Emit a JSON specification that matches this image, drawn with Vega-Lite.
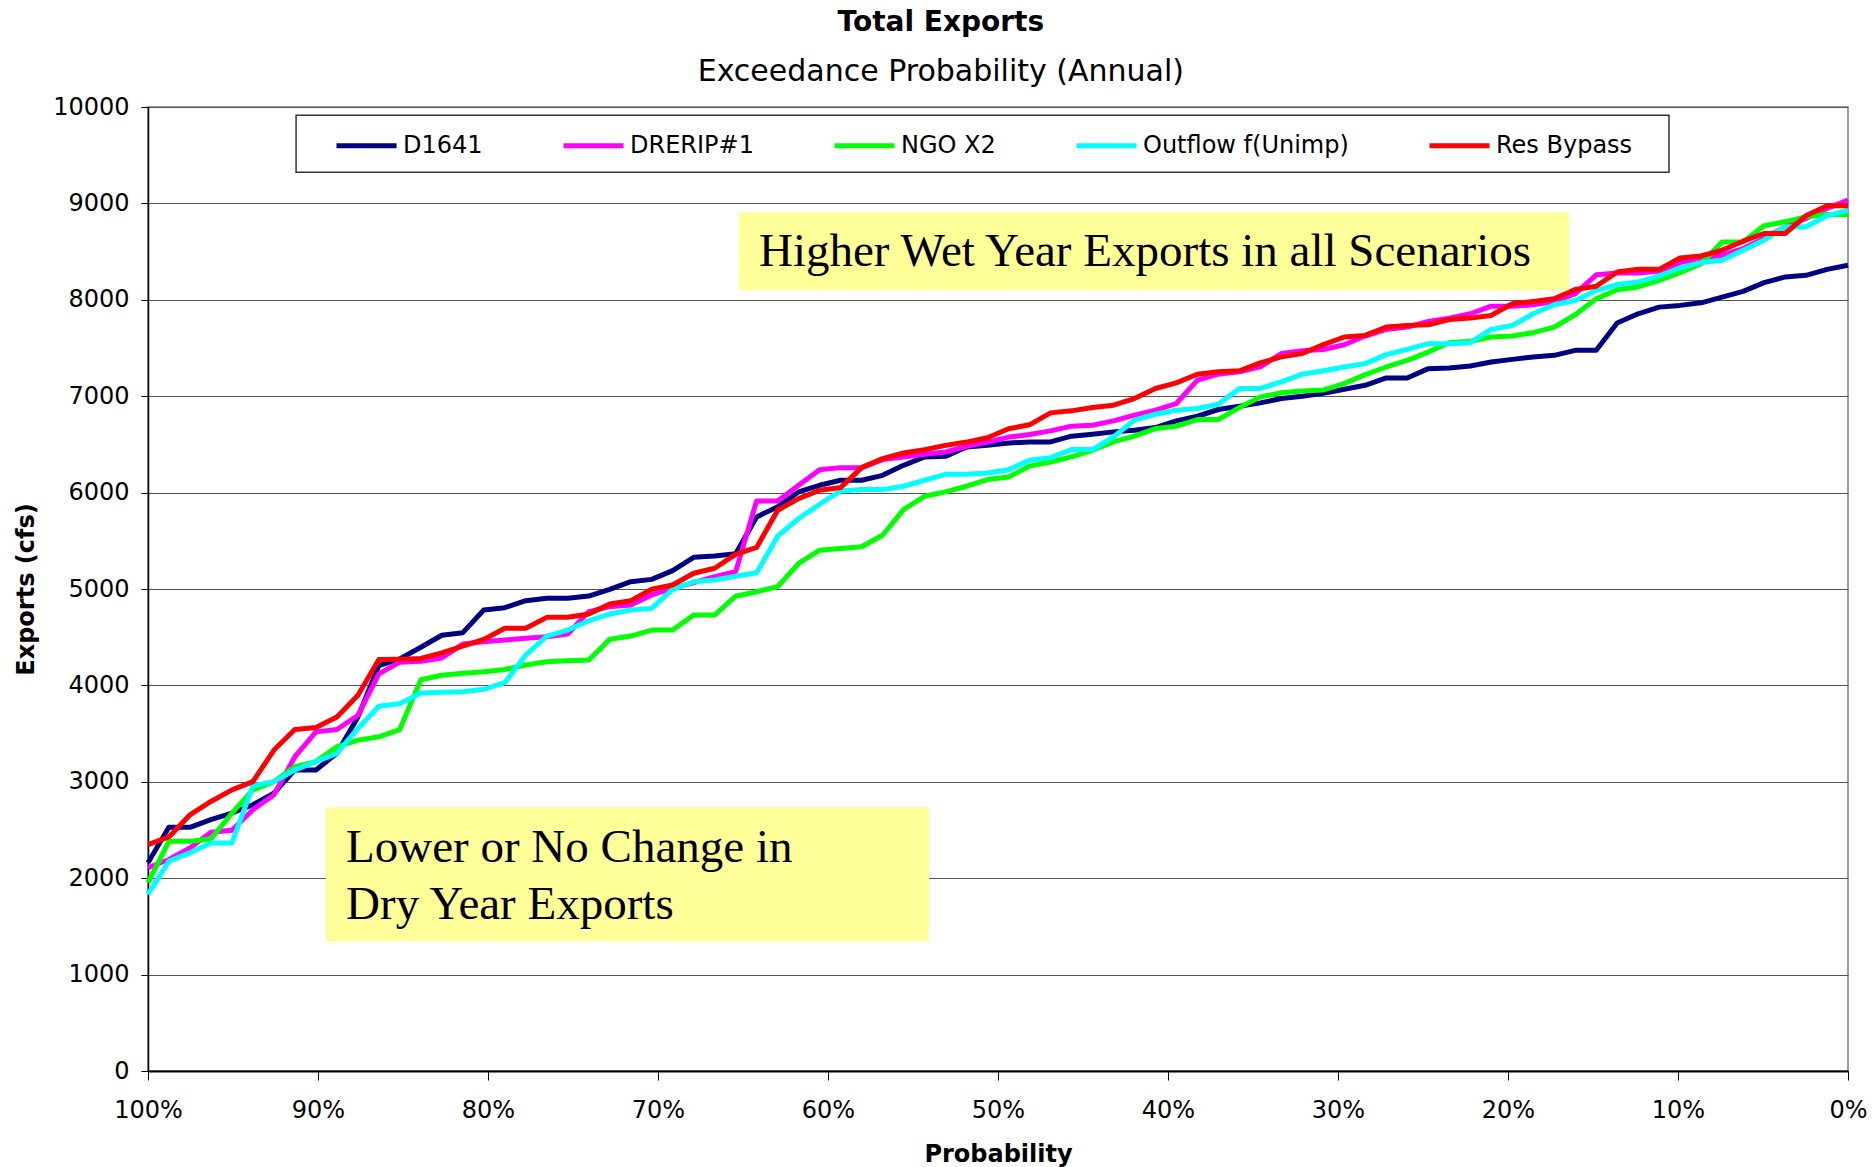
{
  "$schema": "https://vega.github.io/schema/vega-lite/v6.json",
  "width": 1700,
  "height": 964,
  "autosize": {"type": "none"},
  "padding": {"left": 148, "top": 107, "right": 24, "bottom": 96},
  "background": "white",
  "config": {
    "font": "DejaVu Sans",
    "view": {"stroke": "#808080", "strokeWidth": 1.5}
  },
  "title": {
    "text": "Total Exports",
    "subtitle": "Exceedance Probability (Annual)",
    "font": "DejaVu Sans",
    "fontSize": 28,
    "fontWeight": "bold",
    "color": "#000",
    "subtitleFont": "DejaVu Sans",
    "subtitleFontSize": 30,
    "subtitleColor": "#000",
    "subtitlePadding": 20,
    "anchor": "middle",
    "frame": "bounds",
    "offset": 8
  },
  "datasets": {
    "curves": [
      {"p": 1, "D1641": 2160, "DRERIP#1": 2108, "NGO X2": 1953, "Outflow f(Unimp)": 1833, "Res Bypass": 2349},
      {"p": 0.9877, "D1641": 2528, "DRERIP#1": 2194, "NGO X2": 2383, "Outflow f(Unimp)": 2177, "Res Bypass": 2428},
      {"p": 0.9753, "D1641": 2528, "DRERIP#1": 2314, "NGO X2": 2383, "Outflow f(Unimp)": 2263, "Res Bypass": 2658},
      {"p": 0.963, "D1641": 2607, "DRERIP#1": 2476, "NGO X2": 2407, "Outflow f(Unimp)": 2366, "Res Bypass": 2796},
      {"p": 0.9506, "D1641": 2676, "DRERIP#1": 2497, "NGO X2": 2676, "Outflow f(Unimp)": 2366, "Res Bypass": 2916},
      {"p": 0.9383, "D1641": 2762, "DRERIP#1": 2710, "NGO X2": 2916, "Outflow f(Unimp)": 2958, "Res Bypass": 3002},
      {"p": 0.9259, "D1641": 2882, "DRERIP#1": 2865, "NGO X2": 3002, "Outflow f(Unimp)": 3002, "Res Bypass": 3329},
      {"p": 0.9136, "D1641": 3123, "DRERIP#1": 3260, "NGO X2": 3157, "Outflow f(Unimp)": 3123, "Res Bypass": 3542},
      {"p": 0.9012, "D1641": 3123, "DRERIP#1": 3518, "NGO X2": 3209, "Outflow f(Unimp)": 3209, "Res Bypass": 3563},
      {"p": 0.8889, "D1641": 3295, "DRERIP#1": 3542, "NGO X2": 3364, "Outflow f(Unimp)": 3295, "Res Bypass": 3673},
      {"p": 0.8765, "D1641": 3673, "DRERIP#1": 3690, "NGO X2": 3432, "Outflow f(Unimp)": 3553, "Res Bypass": 3897},
      {"p": 0.8642, "D1641": 4206, "DRERIP#1": 4120, "NGO X2": 3467, "Outflow f(Unimp)": 3783, "Res Bypass": 4268},
      {"p": 0.8519, "D1641": 4275, "DRERIP#1": 4241, "NGO X2": 3542, "Outflow f(Unimp)": 3811, "Res Bypass": 4272},
      {"p": 0.8395, "D1641": 4396, "DRERIP#1": 4251, "NGO X2": 4058, "Outflow f(Unimp)": 3921, "Res Bypass": 4280},
      {"p": 0.8272, "D1641": 4520, "DRERIP#1": 4285, "NGO X2": 4105, "Outflow f(Unimp)": 3928, "Res Bypass": 4338},
      {"p": 0.8148, "D1641": 4547, "DRERIP#1": 4429, "NGO X2": 4125, "Outflow f(Unimp)": 3934, "Res Bypass": 4408},
      {"p": 0.8025, "D1641": 4782, "DRERIP#1": 4453, "NGO X2": 4142, "Outflow f(Unimp)": 3959, "Res Bypass": 4477},
      {"p": 0.7901, "D1641": 4806, "DRERIP#1": 4471, "NGO X2": 4166, "Outflow f(Unimp)": 4028, "Res Bypass": 4592},
      {"p": 0.7778, "D1641": 4879, "DRERIP#1": 4488, "NGO X2": 4211, "Outflow f(Unimp)": 4315, "Res Bypass": 4592},
      {"p": 0.7654, "D1641": 4903, "DRERIP#1": 4505, "NGO X2": 4246, "Outflow f(Unimp)": 4512, "Res Bypass": 4706},
      {"p": 0.7531, "D1641": 4903, "DRERIP#1": 4533, "NGO X2": 4256, "Outflow f(Unimp)": 4574, "Res Bypass": 4706},
      {"p": 0.7407, "D1641": 4927, "DRERIP#1": 4765, "NGO X2": 4263, "Outflow f(Unimp)": 4671, "Res Bypass": 4740},
      {"p": 0.7284, "D1641": 4997, "DRERIP#1": 4817, "NGO X2": 4478, "Outflow f(Unimp)": 4740, "Res Bypass": 4844},
      {"p": 0.716, "D1641": 5076, "DRERIP#1": 4834, "NGO X2": 4512, "Outflow f(Unimp)": 4782, "Res Bypass": 4879},
      {"p": 0.7037, "D1641": 5100, "DRERIP#1": 4938, "NGO X2": 4574, "Outflow f(Unimp)": 4799, "Res Bypass": 4997},
      {"p": 0.6914, "D1641": 5190, "DRERIP#1": 5007, "NGO X2": 4574, "Outflow f(Unimp)": 4997, "Res Bypass": 5042},
      {"p": 0.679, "D1641": 5329, "DRERIP#1": 5066, "NGO X2": 4730, "Outflow f(Unimp)": 5076, "Res Bypass": 5163},
      {"p": 0.6667, "D1641": 5343, "DRERIP#1": 5128, "NGO X2": 4730, "Outflow f(Unimp)": 5093, "Res Bypass": 5215},
      {"p": 0.6543, "D1641": 5365, "DRERIP#1": 5180, "NGO X2": 4925, "Outflow f(Unimp)": 5132, "Res Bypass": 5360},
      {"p": 0.642, "D1641": 5748, "DRERIP#1": 5914, "NGO X2": 4972, "Outflow f(Unimp)": 5168, "Res Bypass": 5431},
      {"p": 0.6296, "D1641": 5852, "DRERIP#1": 5914, "NGO X2": 5024, "Outflow f(Unimp)": 5548, "Res Bypass": 5817},
      {"p": 0.6173, "D1641": 6007, "DRERIP#1": 6076, "NGO X2": 5265, "Outflow f(Unimp)": 5731, "Res Bypass": 5938},
      {"p": 0.6049, "D1641": 6076, "DRERIP#1": 6238, "NGO X2": 5403, "Outflow f(Unimp)": 5879, "Res Bypass": 6024},
      {"p": 0.5926, "D1641": 6128, "DRERIP#1": 6259, "NGO X2": 5420, "Outflow f(Unimp)": 6017, "Res Bypass": 6052},
      {"p": 0.5802, "D1641": 6128, "DRERIP#1": 6259, "NGO X2": 5438, "Outflow f(Unimp)": 6031, "Res Bypass": 6259},
      {"p": 0.5679, "D1641": 6179, "DRERIP#1": 6342, "NGO X2": 5558, "Outflow f(Unimp)": 6031, "Res Bypass": 6352},
      {"p": 0.5556, "D1641": 6283, "DRERIP#1": 6369, "NGO X2": 5824, "Outflow f(Unimp)": 6066, "Res Bypass": 6411},
      {"p": 0.5432, "D1641": 6369, "DRERIP#1": 6397, "NGO X2": 5962, "Outflow f(Unimp)": 6128, "Res Bypass": 6445},
      {"p": 0.5309, "D1641": 6376, "DRERIP#1": 6421, "NGO X2": 6007, "Outflow f(Unimp)": 6190, "Res Bypass": 6490},
      {"p": 0.5185, "D1641": 6473, "DRERIP#1": 6480, "NGO X2": 6066, "Outflow f(Unimp)": 6190, "Res Bypass": 6524},
      {"p": 0.5062, "D1641": 6490, "DRERIP#1": 6524, "NGO X2": 6135, "Outflow f(Unimp)": 6204, "Res Bypass": 6569},
      {"p": 0.4938, "D1641": 6514, "DRERIP#1": 6576, "NGO X2": 6162, "Outflow f(Unimp)": 6238, "Res Bypass": 6662},
      {"p": 0.4815, "D1641": 6525, "DRERIP#1": 6603, "NGO X2": 6275, "Outflow f(Unimp)": 6335, "Res Bypass": 6703},
      {"p": 0.4691, "D1641": 6526, "DRERIP#1": 6640, "NGO X2": 6318, "Outflow f(Unimp)": 6363, "Res Bypass": 6827},
      {"p": 0.4568, "D1641": 6585, "DRERIP#1": 6689, "NGO X2": 6370, "Outflow f(Unimp)": 6446, "Res Bypass": 6848},
      {"p": 0.4444, "D1641": 6606, "DRERIP#1": 6699, "NGO X2": 6439, "Outflow f(Unimp)": 6446, "Res Bypass": 6882},
      {"p": 0.4321, "D1641": 6630, "DRERIP#1": 6744, "NGO X2": 6526, "Outflow f(Unimp)": 6578, "Res Bypass": 6907},
      {"p": 0.4198, "D1641": 6647, "DRERIP#1": 6803, "NGO X2": 6585, "Outflow f(Unimp)": 6751, "Res Bypass": 6976},
      {"p": 0.4074, "D1641": 6675, "DRERIP#1": 6855, "NGO X2": 6664, "Outflow f(Unimp)": 6813, "Res Bypass": 7080},
      {"p": 0.3951, "D1641": 6744, "DRERIP#1": 6924, "NGO X2": 6689, "Outflow f(Unimp)": 6855, "Res Bypass": 7138},
      {"p": 0.3827, "D1641": 6792, "DRERIP#1": 7166, "NGO X2": 6758, "Outflow f(Unimp)": 6872, "Res Bypass": 7228},
      {"p": 0.3704, "D1641": 6862, "DRERIP#1": 7228, "NGO X2": 6758, "Outflow f(Unimp)": 6917, "Res Bypass": 7253},
      {"p": 0.358, "D1641": 6896, "DRERIP#1": 7253, "NGO X2": 6882, "Outflow f(Unimp)": 7080, "Res Bypass": 7263},
      {"p": 0.3457, "D1641": 6931, "DRERIP#1": 7304, "NGO X2": 6993, "Outflow f(Unimp)": 7080, "Res Bypass": 7346},
      {"p": 0.3333, "D1641": 6976, "DRERIP#1": 7443, "NGO X2": 7035, "Outflow f(Unimp)": 7149, "Res Bypass": 7408},
      {"p": 0.321, "D1641": 7000, "DRERIP#1": 7471, "NGO X2": 7055, "Outflow f(Unimp)": 7228, "Res Bypass": 7443},
      {"p": 0.3086, "D1641": 7030, "DRERIP#1": 7485, "NGO X2": 7065, "Outflow f(Unimp)": 7264, "Res Bypass": 7535},
      {"p": 0.2963, "D1641": 7072, "DRERIP#1": 7534, "NGO X2": 7131, "Outflow f(Unimp)": 7303, "Res Bypass": 7614},
      {"p": 0.284, "D1641": 7113, "DRERIP#1": 7624, "NGO X2": 7224, "Outflow f(Unimp)": 7338, "Res Bypass": 7631},
      {"p": 0.2716, "D1641": 7189, "DRERIP#1": 7693, "NGO X2": 7303, "Outflow f(Unimp)": 7431, "Res Bypass": 7717},
      {"p": 0.2593, "D1641": 7189, "DRERIP#1": 7717, "NGO X2": 7372, "Outflow f(Unimp)": 7486, "Res Bypass": 7734},
      {"p": 0.2469, "D1641": 7286, "DRERIP#1": 7776, "NGO X2": 7458, "Outflow f(Unimp)": 7545, "Res Bypass": 7741},
      {"p": 0.2346, "D1641": 7293, "DRERIP#1": 7810, "NGO X2": 7555, "Outflow f(Unimp)": 7545, "Res Bypass": 7796},
      {"p": 0.2222, "D1641": 7313, "DRERIP#1": 7855, "NGO X2": 7569, "Outflow f(Unimp)": 7555, "Res Bypass": 7810},
      {"p": 0.2099, "D1641": 7355, "DRERIP#1": 7934, "NGO X2": 7614, "Outflow f(Unimp)": 7693, "Res Bypass": 7838},
      {"p": 0.1975, "D1641": 7382, "DRERIP#1": 7934, "NGO X2": 7624, "Outflow f(Unimp)": 7734, "Res Bypass": 7959},
      {"p": 0.1852, "D1641": 7407, "DRERIP#1": 7948, "NGO X2": 7659, "Outflow f(Unimp)": 7855, "Res Bypass": 7983},
      {"p": 0.1728, "D1641": 7424, "DRERIP#1": 7983, "NGO X2": 7717, "Outflow f(Unimp)": 7948, "Res Bypass": 8010},
      {"p": 0.1605, "D1641": 7476, "DRERIP#1": 8062, "NGO X2": 7845, "Outflow f(Unimp)": 7993, "Res Bypass": 8107},
      {"p": 0.1481, "D1641": 7476, "DRERIP#1": 8259, "NGO X2": 8010, "Outflow f(Unimp)": 8097, "Res Bypass": 8141},
      {"p": 0.1358, "D1641": 7760, "DRERIP#1": 8278, "NGO X2": 8105, "Outflow f(Unimp)": 8158, "Res Bypass": 8288},
      {"p": 0.1235, "D1641": 7855, "DRERIP#1": 8278, "NGO X2": 8133, "Outflow f(Unimp)": 8185, "Res Bypass": 8316},
      {"p": 0.1111, "D1641": 7924, "DRERIP#1": 8296, "NGO X2": 8202, "Outflow f(Unimp)": 8247, "Res Bypass": 8316},
      {"p": 0.0988, "D1641": 7942, "DRERIP#1": 8386, "NGO X2": 8282, "Outflow f(Unimp)": 8330, "Res Bypass": 8434},
      {"p": 0.0864, "D1641": 7969, "DRERIP#1": 8434, "NGO X2": 8375, "Outflow f(Unimp)": 8386, "Res Bypass": 8455},
      {"p": 0.0741, "D1641": 8028, "DRERIP#1": 8462, "NGO X2": 8600, "Outflow f(Unimp)": 8410, "Res Bypass": 8514},
      {"p": 0.0617, "D1641": 8087, "DRERIP#1": 8531, "NGO X2": 8600, "Outflow f(Unimp)": 8514, "Res Bypass": 8608},
      {"p": 0.0494, "D1641": 8178, "DRERIP#1": 8636, "NGO X2": 8768, "Outflow f(Unimp)": 8618, "Res Bypass": 8688},
      {"p": 0.037, "D1641": 8237, "DRERIP#1": 8757, "NGO X2": 8809, "Outflow f(Unimp)": 8757, "Res Bypass": 8688},
      {"p": 0.0247, "D1641": 8254, "DRERIP#1": 8844, "NGO X2": 8861, "Outflow f(Unimp)": 8757, "Res Bypass": 8872},
      {"p": 0.0123, "D1641": 8316, "DRERIP#1": 8948, "NGO X2": 8885, "Outflow f(Unimp)": 8872, "Res Bypass": 8976},
      {"p": 0, "D1641": 8358, "DRERIP#1": 9035, "NGO X2": 8885, "Outflow f(Unimp)": 8930, "Res Bypass": 8976}
    ],
    "legendFrame": [
      {"p": 0.9129, "p2": 0.1053, "v": 9914, "v2": 9323}
    ],
    "noteBoxes": [
      {"p": 0.8953, "p2": 0.5406, "v": 2735, "v2": 1345},
      {"p": 0.6524, "p2": 0.1641, "v": 8908, "v2": 8099}
    ],
    "noteTexts": [
      {"p": 0.8835, "v": 2315, "t": ["Lower or No Change in", "Dry Year Exports"]},
      {"p": 0.6406, "v": 8493, "t": "Higher Wet Year Exports in all Scenarios"}
    ]
  },
  "encoding": {
    "x": {
      "field": "p",
      "type": "quantitative",
      "scale": {"domain": [0, 1], "reverse": true, "nice": false, "zero": false},
      "axis": {
        "title": "Probability",
        "format": ".0%",
        "values": [0, 0.1, 0.2, 0.3, 0.4, 0.5, 0.6, 0.7, 0.8, 0.9, 1],
        "grid": false,
        "domainColor": "#000",
        "domainWidth": 2,
        "tickColor": "#000",
        "tickSize": 9,
        "labelFont": "DejaVu Sans",
        "labelFontSize": 24,
        "labelColor": "#000",
        "labelPadding": 18,
        "labelFlush": false,
        "labelOverlap": false,
        "titleFont": "DejaVu Sans",
        "titleFontSize": 24,
        "titleFontWeight": "bold",
        "titleColor": "#000",
        "titlePadding": 20
      }
    },
    "y": {
      "field": "v",
      "type": "quantitative",
      "scale": {"domain": [0, 10000], "nice": false, "zero": true},
      "axis": {
        "title": "Exports (cfs)",
        "format": "d",
        "values": [0, 1000, 2000, 3000, 4000, 5000, 6000, 7000, 8000, 9000, 10000],
        "grid": true,
        "gridColor": "#555",
        "gridWidth": 1,
        "domainColor": "#000",
        "domainWidth": 1.5,
        "tickColor": "#000",
        "tickSize": 7,
        "labelFont": "DejaVu Sans",
        "labelFontSize": 24,
        "labelColor": "#000",
        "labelPadding": 12,
        "titleFont": "DejaVu Sans",
        "titleFontSize": 24,
        "titleFontWeight": "bold",
        "titleColor": "#000",
        "titlePadding": 14
      }
    }
  },
  "layer": [
    {
      "data": {"name": "legendFrame"},
      "mark": {"type": "rect", "fill": "white", "stroke": "#333", "strokeWidth": 1.5},
      "encoding": {
        "x2": {"field": "p2"},
        "y2": {"field": "v2"}
      }
    },
    {
      "data": {"name": "curves"},
      "transform": [
        {"fold": ["D1641", "DRERIP#1", "NGO X2", "Outflow f(Unimp)", "Res Bypass"], "as": ["series", "v"]}
      ],
      "mark": {"type": "line", "strokeWidth": 5, "strokeJoin": "round"},
      "encoding": {
        "color": {
          "field": "series",
          "type": "nominal",
          "scale": {
            "domain": ["D1641", "DRERIP#1", "NGO X2", "Outflow f(Unimp)", "Res Bypass"],
            "range": ["#000080", "#FF00FF", "#00FF00", "#00FFFF", "#FF0000"]
          },
          "legend": {
            "title": null,
            "orient": "none",
            "legendX": 186,
            "legendY": 6,
            "direction": "horizontal",
            "columns": 5,
            "columnPadding": 70,
            "padding": 0,
            "symbolType": "stroke",
            "symbolSize": 3600,
            "symbolStrokeWidth": 5,
            "labelFont": "DejaVu Sans",
            "labelFontSize": 24,
            "labelColor": "#000",
            "labelOffset": 4,
            "labelLimit": 400
          }
        }
      }
    },
    {
      "data": {"name": "noteBoxes"},
      "mark": {"type": "rect", "fill": "#FFFF99"},
      "encoding": {
        "x2": {"field": "p2"},
        "y2": {"field": "v2"}
      }
    },
    {
      "data": {"name": "noteTexts"},
      "mark": {
        "type": "text",
        "align": "left",
        "baseline": "middle",
        "font": "Liberation Serif",
        "fontSize": 47,
        "lineHeight": 57,
        "color": "#000"
      },
      "encoding": {
        "text": {"field": "t"}
      }
    }
  ]
}
